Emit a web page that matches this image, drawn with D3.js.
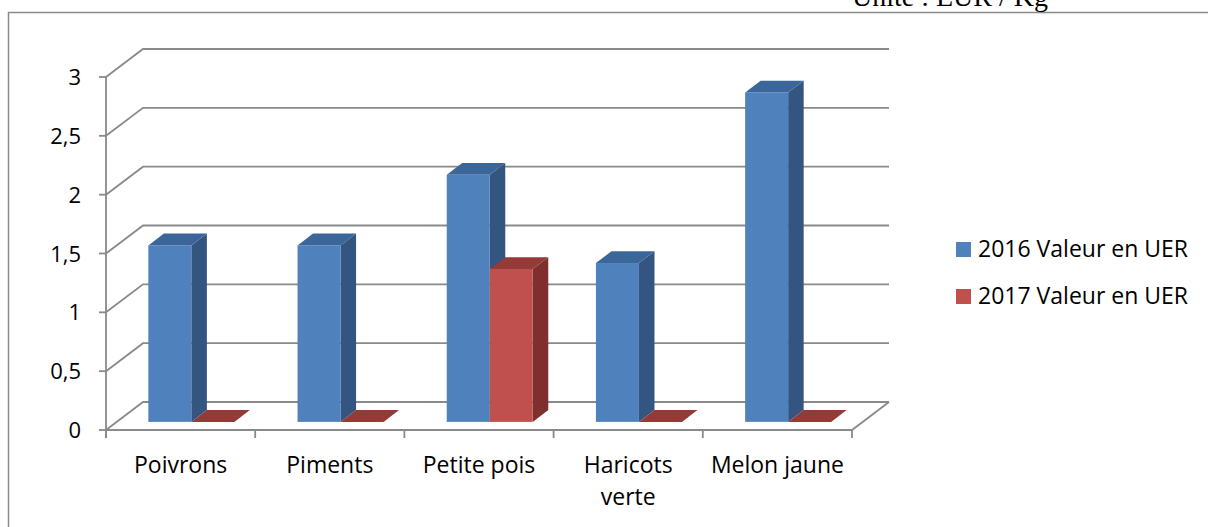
<!DOCTYPE html>
<html>
<head>
<meta charset="utf-8">
<script src="https://cdn.jsdelivr.net/npm/d3@7"></script>
<style>
  body { margin: 0; background: #fff; }
  svg { display: block; }
  text { font-family: "Open Sans", "Noto Sans", sans-serif; fill: #000; }
</style>
</head>
<body>
<svg id="chart" width="1208" height="527"></svg>
<script>
// data
var categories = ["Poivrons", "Piments", "Petite pois", "Haricots verte", "Melon jaune"];
var series = ["2016 Valeur en UER", "2017 Valeur en UER"];
var values2016 = [1.5, 1.5, 2.1, 1.35, 2.8];
var values2017 = [0, 0, 1.3, 0, 0];
var yTicks = [0, 0.5, 1, 1.5, 2, 2.5, 3];

var colors = {
  front: ["#4f81bd", "#c0504d"],
  side: ["#34557f", "#7d302e"],
  top: ["#3b6699", "#943a37"]
};

var svg = d3.select("#chart");
var width = 1208, height = 527;

// 3d box: depth offset
var DX = 37, DY = 28;
var f0 = 0.29, f1 = 0.71;

var x = d3.scaleBand().domain(categories).range([106, 852]);
var xs = d3.scaleBand().domain(series).range([0, x.bandwidth()]).paddingOuter(0.735).paddingInner(0);
var y = d3.scaleLinear().domain([0, 3]).range([430, 77]);

function pt(px, v, f) { return [px + DX * f, y(v) - DY * f]; }
function poly(pts) { return pts.map(function(p) { return p.join(","); }).join(" "); }

var gridColor = "#8a8a8a";

// outer frame
svg.append("path")
  .attr("d", "M8.5," + height + " L8.5,12.5 L" + width + ",12.5")
  .attr("fill", "none").attr("stroke", gridColor).attr("stroke-width", 1.5);

// unit note, cut at top like the source
svg.append("text")
  .attr("x", 852).attr("y", 6)
  .style("font-family", "'Liberation Serif', serif")
  .style("font-size", "28px")
  .text("Unité : EUR / Kg");

var g = svg.append("g");

// back wall gridlines and left wall diagonals
yTicks.forEach(function(t) {
  var a = pt(x.range()[0], t, 0), b = pt(x.range()[0], t, 1), c = pt(x.range()[1], t, 1);
  g.append("polyline")
    .attr("points", poly([a, b, c]))
    .attr("fill", "none").attr("stroke", gridColor).attr("stroke-width", 1.8);
});

// floor front edge and right edge
var fl = pt(x.range()[0], 0, 0), fr = pt(x.range()[1], 0, 0), br = pt(x.range()[1], 0, 1);
g.append("polyline").attr("points", poly([fl, fr, br]))
  .attr("fill", "none").attr("stroke", gridColor).attr("stroke-width", 1.8);

// value axis
g.append("line").attr("x1", 106).attr("x2", 106).attr("y1", y(3)).attr("y2", y(0) + 8)
  .attr("stroke", gridColor).attr("stroke-width", 1.8);
yTicks.forEach(function(t) {
  g.append("line").attr("x1", 99).attr("x2", 106).attr("y1", y(t)).attr("y2", y(t))
    .attr("stroke", gridColor).attr("stroke-width", 1.8);
  g.append("text").attr("x", 81).attr("y", y(t) + 8)
    .attr("text-anchor", "end")
    .style("font-size", "22px")
    .text(String(t).replace(".", ","));
});

// category ticks
var tickXs = categories.map(function(c) { return x(c); }).concat([x.range()[1]]);
tickXs.forEach(function(tx) {
  g.append("line").attr("x1", tx).attr("x2", tx).attr("y1", y(0)).attr("y2", y(0) + 8)
    .attr("stroke", gridColor).attr("stroke-width", 1.8);
});

// category labels
categories.forEach(function(c) {
  var lines = c === "Haricots verte" ? ["Haricots", "verte"] : [c];
  var t = g.append("text")
    .attr("x", x(c) + x.bandwidth() / 2)
    .attr("y", 473)
    .attr("text-anchor", "middle")
    .style("font-size", "23px");
  lines.forEach(function(l, i) {
    t.append("tspan").attr("x", x(c) + x.bandwidth() / 2).attr("dy", i === 0 ? 0 : 32).text(l);
  });
});

// bars
var data = [values2016, values2017];
var bars = g.append("g");
categories.forEach(function(c, ci) {
  series.forEach(function(s, si) {
    var v = data[si][ci];
    var x0 = x(c) + xs(s), x1 = x0 + xs.bandwidth();
    var fbl = pt(x0, 0, f0), fbr = pt(x1, 0, f0), ftl = pt(x0, v, f0), ftr = pt(x1, v, f0);
    var bbr = pt(x1, 0, f1), btl = pt(x0, v, f1), btr = pt(x1, v, f1);
    bars.append("polygon").attr("points", poly([fbr, ftr, btr, bbr]))
      .attr("fill", colors.side[si]);
    bars.append("polygon").attr("points", poly([ftl, ftr, btr, btl]))
      .attr("fill", colors.top[si]);
    if (v > 0) {
      bars.append("rect")
        .attr("x", ftl[0]).attr("y", ftl[1])
        .attr("width", xs.bandwidth()).attr("height", fbl[1] - ftl[1])
        .attr("fill", colors.front[si]);
    }
  });
});

// legend
var legend = svg.append("g");
series.forEach(function(s, i) {
  legend.append("rect").attr("x", 956).attr("y", 242 + i * 47)
    .attr("width", 15).attr("height", 15).attr("fill", colors.front[i]);
  legend.append("text").attr("x", 978).attr("y", 257 + i * 47)
    .style("font-size", "23px").text(s);
});
</script>
</body>
</html>
